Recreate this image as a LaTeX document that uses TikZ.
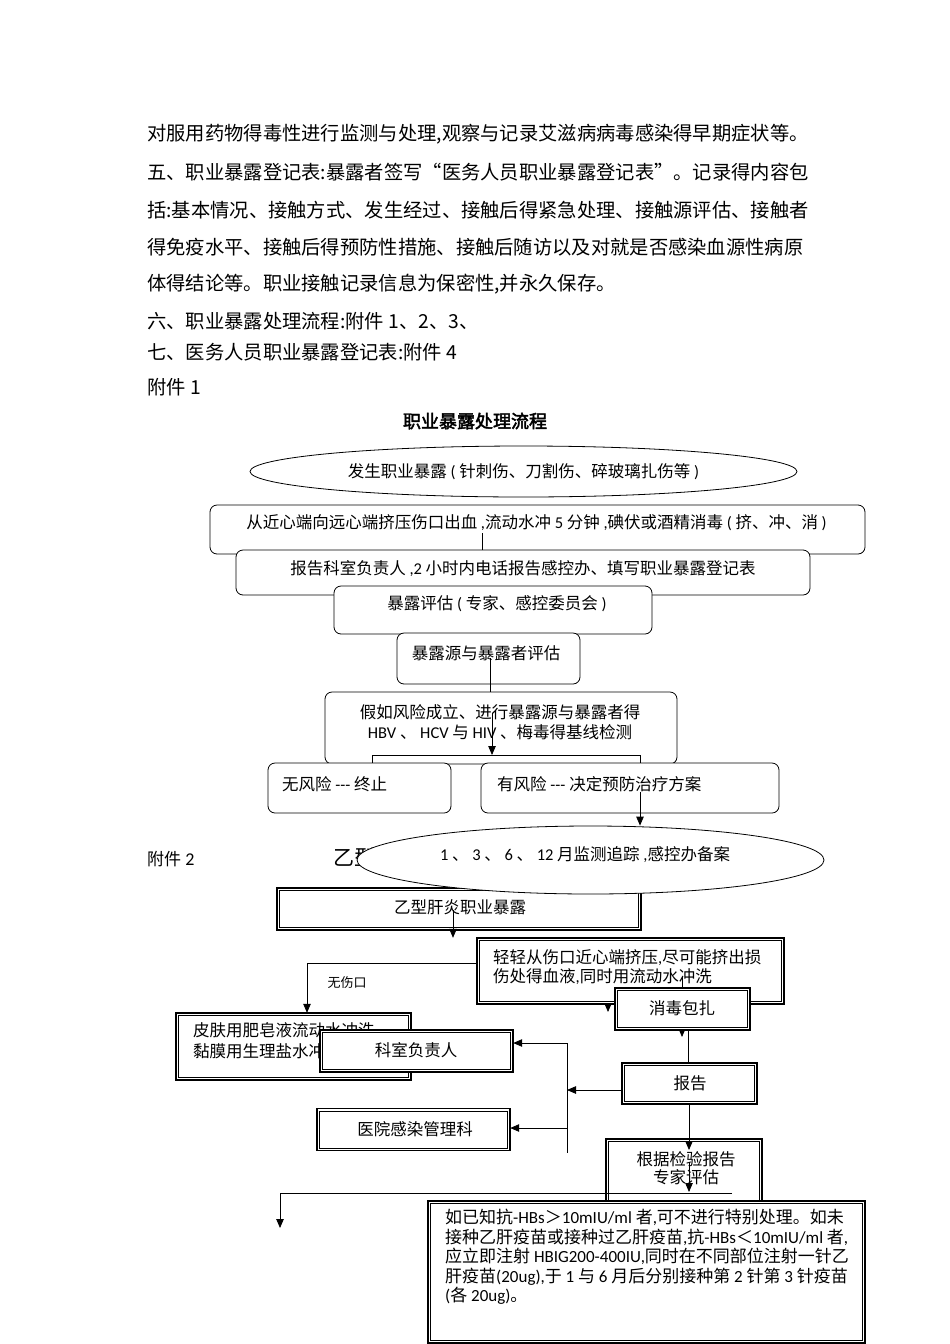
\documentclass[tikz,border=0pt]{standalone}
\usepackage{fontspec}
\setmainfont{Noto Sans CJK SC}[AutoFakeBold=2.5]
\newfontfamily\en{Carlito}
\usetikzlibrary{shapes.geometric,arrows.meta}
\newcommand\fs[1]{\fontsize{#1}{#1}\selectfont}
\newcommand\dbl[1]{%
  \draw[line width=1.5pt] (#1.south west) rectangle (#1.north east);
  \draw[line width=0.6pt] ([shift={(2.8pt,2.8pt)}]#1.south west) rectangle ([shift={(-2.8pt,-2.8pt)}]#1.north east);}
\tikzset{
  body/.style={inner sep=0pt, anchor=west, font=\fs{19.3}},
  rbox/.style={draw, rounded corners=7pt, fill=white, line width=0.8pt, inner sep=0pt},
  dbox/.style={fill=white, draw=none, inner sep=0pt},
  txt/.style={inner sep=0pt, font=\fs{16.5}},
  ln/.style={line width=0.8pt},
  arr/.style={line width=0.8pt, -{Triangle[length=9pt,width=7.5pt]}},
}
\begin{document}
\begin{tikzpicture}[x=1pt,y=-1pt]
\useasboundingbox (0,0) rectangle (950,1344);
\fill[white] (0,0) rectangle (950,1344);

% ---------- body text ----------
\node[body] (l1) at (147,134) {对服用药物得毒性进行监测与处理,观察与记录艾滋病病毒感染得早期症状等。};
\node[body] (l2) at (147,172) {五、职业暴露登记表:暴露者签写“医务人员职业暴露登记表”。记录得内容包};
\node[body] (l3) at (147,210) {括:基本情况、接触方式、发生经过、接触后得紧急处理、接触源评估、接触者};
\node[body] (l4) at (147,247) {得免疫水平、接触后得预防性措施、接触后随访以及对就是否感染血源性病原};
\node[body] (l5) at (147,284) {体得结论等。职业接触记录信息为保密性,并永久保存。};
\node[body] (l6) at (147,321) {六、职业暴露处理流程:附件 1、2、3、};
\node[body] (l7) at (147,352) {七、医务人员职业暴露登记表:附件 4};
\node[body] (l8) at (147,387) {附件 1};

% ---------- flowchart 1 ----------
\node[inner sep=0pt, font=\fs{18}\bfseries] (t1) at (475,421) {职业暴露处理流程};

\node[draw, ellipse, fill=white, line width=0.8pt, inner sep=0pt,
      minimum width=547pt, minimum height=51pt, font=\fs{16.5}] (e1) at (523.5,471.5)
      {发生职业暴露 {\en (} 针刺伤、刀割伤、碎玻璃扎伤等 {\en )}};

\node[rbox, minimum width=655pt, minimum height=49pt] (b1) at (537.5,529.5) {};
\node[txt] (b1t) at (536.5,523) {从近心端向远心端挤压伤口出血 {\en ,}流动水冲 {\en 5} 分钟 {\en ,}碘伏或酒精消毒 {\en (} 挤、冲、消 {\en )}};

\node[rbox, minimum width=574pt, minimum height=45pt] (b2) at (523,572.5) {};
\node[txt] (b2t) at (523,569) {报告科室负责人 {\en ,2} 小时内电话报告感控办、填写职业暴露登记表};
\coordinate (c1) at (482,533);
\draw[ln] (c1) -- (c1 |- b2.north);

\node[rbox, minimum width=318pt, minimum height=48pt] (b3) at (493,610) {};
\node[txt] (b3t) at (497,604) {暴露评估 {\en (} 专家、感控委员会 {\en )}};

\node[rbox, minimum width=183pt, minimum height=51pt] (b4) at (488.5,658.5) {};
\node[txt] (b4t) at (486,653) {暴露源与暴露者评估};

\node[rbox, minimum width=352pt, minimum height=72pt] (b5) at (501,728) {};
\node[txt, align=center, font={\fontsize{16.5}{20}\selectfont}] (b5t) at (500,722)
  {假如风险成立、进行暴露源与暴露者得\\{\en HBV} 、 {\en HCV} 与 {\en HIV} 、梅毒得基线检测};
\coordinate (c2) at (490,658);
\draw[ln] (c2) -- (c2 |- b5.north);
\coordinate (c3) at (492,713);
\coordinate (c4) at (492,755);
\draw[arr] (c3) -- (c4);
\coordinate (k1) at (372,755);
\coordinate (k2) at (640,755);

\node[rbox, minimum width=183pt, minimum height=50pt] (b6) at (359.5,788) {};
\node[txt, anchor=west] (b6t) at (282,784) {无风险 {\en ---} 终止};
\node[rbox, minimum width=298pt, minimum height=50pt] (b7) at (630,788) {};
\node[txt, anchor=west] (b7t) at (497,784) {有风险 {\en ---} 决定预防治疗方案};
\draw[ln] (k1 |- b6.north) -- (k1) -- (k2) -- (k2 |- b7.north);

% ---------- attachment 2 heading ----------
\node[inner sep=0pt, anchor=west, font=\fs{17}] (fj2) at (147,859) {附件{\en\fs{18} 2}};
\node[inner sep=0pt, anchor=west, font=\fs{21}] (t2) at (333,858) {乙型肝炎职业暴露处理流程};

% ---------- flowchart 2 ----------
\node[dbox, minimum width=364pt, minimum height=42pt] (A) at (459,909) {};
\dbl{A}
\node[txt] (At) at (460,907) {乙型肝炎职业暴露};

\node[draw, ellipse, fill=white, line width=0.8pt, inner sep=0pt,
      minimum width=467pt, minimum height=68pt] (e2) at (590.5,860) {};
\node[txt] (e2t) at (585,855) {{\en 1} 、 {\en 3} 、 {\en 6} 、 {\en 12} 月监测追踪 {\en ,}感控办备案};
\draw[arr] (b7t.south -| k2) -- (k2 |- e2.north);

\coordinate (c5) at (453,910);
\coordinate (c6) at (608,990);
\coordinate (c7) at (608,1012);
\draw[arr] (c6) -- (c7);

\node[dbox, minimum width=307pt, minimum height=66pt] (B) at (630.5,971) {};
\dbl{B}
\draw[arr] (c5) -- (c5 |- B.north);
\node[txt, anchor=north west, align=left, font={\fontsize{16.5}{19}\selectfont}] (Bt) at (493,949)
  {轻轻从伤口近心端挤压{\en ,}尽可能挤出损\\伤处得血液{\en ,}同时用流动水冲洗};

\node[dbox, minimum width=235pt, minimum height=67pt] (C) at (293.5,1046.5) {};
\dbl{C}
\node[txt, anchor=north west, align=left, font={\fontsize{16.5}{21}\selectfont}] (Ct) at (193,1022)
  {皮肤用肥皂液流动水冲洗\\黏膜用生理盐水冲洗};
\coordinate (c8) at (307,963);
\draw[ln] (B.west |- c8) -- (c8);
\draw[arr] (c8) -- (c8 |- C.north);
\node[inner sep=0pt, font=\fs{13}] (nw) at (347,983) {无伤口};

\node[dbox, minimum width=193pt, minimum height=42pt] (D) at (416.5,1051) {};
\dbl{D}
\node[txt] (Dt) at (416,1050) {科室负责人};

\coordinate (c9) at (682,977);
\coordinate (c10) at (682,1000);
\coordinate (c11) at (682,1037);
\draw[arr] (c10) -- (c11);
\node[dbox, minimum width=135pt, minimum height=42pt] (E) at (682.5,1009) {};
\dbl{E}
\draw[ln] (c9) -- (c9 |- E.north);
\node[txt] (Et) at (682,1008) {消毒包扎};

\node[dbox, minimum width=135pt, minimum height=41pt] (F) at (689.5,1083.5) {};
\dbl{F}
\node[txt] (Ft) at (690,1083) {报告};
\coordinate (c12) at (688,1030);
\draw[ln] (c12) -- (c12 |- F.north);

\coordinate (v1) at (567,1043);
\coordinate (v2) at (567,1153);
\coordinate (v3) at (567,1128);
\coordinate (c13) at (622,1090);
\draw[arr] (c13) -- (v1 |- c13);
\draw[ln] (v1) -- (v2);
\draw[arr] (v1) -- (D.east |- v1);

\node[dbox, minimum width=193pt, minimum height=42pt] (I) at (413.5,1129.5) {};
\dbl{I}
\node[txt] (It) at (415,1129) {医院感染管理科};
\draw[arr] (v3) -- (I.east |- v3);

\node[dbox, minimum width=156pt, minimum height=80pt] (G) at (684,1179) {};
\dbl{G}
\node[txt, align=center, font={\fontsize{16.5}{18}\selectfont}] (Gt) at (686,1168) {根据检验报告\\专家评估};
\coordinate (c14) at (689,1150);
\coordinate (c15) at (689,1162);
\coordinate (c16) at (689,1192);
\draw[arr] (F.south -| c14) -- (c14);
\draw[arr] (c15) -- (c16);
\coordinate (h1) at (732,1193);
\coordinate (h2) at (280,1193);
\coordinate (h3) at (280,1228);
\draw[ln] (h1) -- (h2);
\draw[arr] (h2) -- (h3);

\node[dbox, minimum width=437pt, minimum height=142pt] (H) at (646.5,1272) {};
\dbl{H}
\node[txt, anchor=north west, align=left, font={\fontsize{17}{19.5}\selectfont}] (Ht) at (445,1209)
  {如已知抗{\en -HBs}＞{\en 10mIU/ml} 者{\en ,}可不进行特别处理。如未\\
   接种乙肝疫苗或接种过乙肝疫苗{\en ,}抗{\en -HBs}＜{\en 10mIU/ml} 者{\en ,}\\
   应立即注射 {\en HBIG200-400IU,}同时在不同部位注射一针乙\\
   肝疫苗{\en (20ug),}于 {\en 1} 与 {\en 6} 月后分别接种第 {\en 2} 针第 {\en 3} 针疫苗\\
   {\en (}各 {\en 20ug)}。};
\end{tikzpicture}
\end{document}
